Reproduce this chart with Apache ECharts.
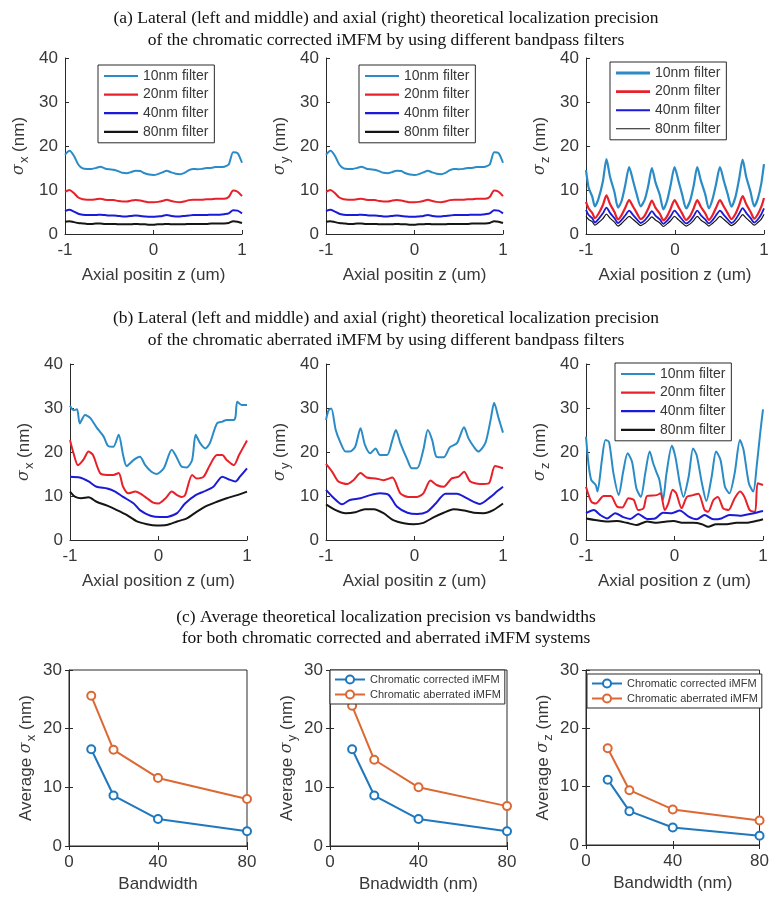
<!DOCTYPE html>
<html><head><meta charset="utf-8">
<script src="https://cdn.jsdelivr.net/npm/echarts@6/dist/echarts.min.js"></script>
<style>html,body{margin:0;padding:0;background:#fff}#c{width:772px;height:901px}</style>
</head><body><div id="c"></div>
<script>
// ---------- DATA ----------
const seriesNames = ['10nm filter','20nm filter','40nm filter','80nm filter'];
const compNames = ['Chromatic corrected iMFM','Chromatic aberrated iMFM'];

// Row (a): lateral sigma_x / sigma_y (chromatic corrected)
const zA = [-1,-0.95,-0.9,-0.85,-0.8,-0.75,-0.7,-0.65,-0.6,-0.55,-0.5,-0.45,-0.4,-0.35,-0.3,-0.25,-0.2,-0.15,-0.1,-0.05,0,0.05,0.1,0.15,0.2,0.25,0.3,0.35,0.4,0.45,0.5,0.55,0.6,0.65,0.7,0.75,0.8,0.85,0.9,0.95,1];
const aLat10 = [18.0,18.9,17.8,15.8,14.9,14.8,14.8,15.0,15.3,14.9,14.7,14.6,14.3,13.9,13.8,14.1,14.4,14.3,13.8,13.5,13.4,13.6,14.0,14.4,14.0,13.7,13.6,13.9,14.5,14.8,14.7,14.8,15.0,15.0,15.2,15.2,15.3,15.8,18.6,18.4,16.2];
const aLat20 = [9.6,10.0,9.3,8.3,7.9,7.8,7.8,7.9,8.0,7.8,7.7,7.7,7.5,7.4,7.4,7.6,7.7,7.6,7.4,7.2,7.2,7.3,7.5,7.8,7.5,7.3,7.2,7.4,7.7,7.8,7.8,7.8,7.9,7.9,8.0,8.0,8.0,8.4,9.9,9.6,8.6];
const aLat40 = [5.2,5.5,5.1,4.6,4.4,4.3,4.3,4.3,4.4,4.3,4.2,4.2,4.1,4.0,4.0,4.1,4.2,4.1,4.0,3.9,3.9,4.0,4.1,4.3,4.1,4.0,4.0,4.1,4.2,4.3,4.3,4.3,4.3,4.4,4.4,4.4,4.5,4.7,5.4,5.3,4.7];
const aLat80 = [2.8,2.9,2.7,2.5,2.4,2.3,2.3,2.4,2.4,2.3,2.3,2.3,2.2,2.2,2.2,2.2,2.3,2.2,2.2,2.1,2.1,2.2,2.2,2.3,2.2,2.2,2.2,2.2,2.3,2.3,2.3,2.3,2.3,2.4,2.4,2.4,2.4,2.5,2.9,2.8,2.5];

// Row (a): axial sigma_z (chromatic corrected)
const zAz = [-1,-0.97,-0.93,-0.9,-0.86,-0.81,-0.77,-0.73,-0.68,-0.64,-0.6,-0.56,-0.515,-0.47,-0.43,-0.385,-0.34,-0.3,-0.26,-0.22,-0.17,-0.13,-0.09,-0.05,-0.005,0.04,0.08,0.125,0.17,0.21,0.25,0.29,0.34,0.38,0.42,0.46,0.505,0.55,0.59,0.635,0.68,0.72,0.76,0.8,0.85,0.89,0.93,0.97,1];
const aAx10 = [14.5,10.5,8.5,6.3,8.0,12.0,17.0,13.0,9.5,6.0,7.5,11.0,15.2,12.0,9.0,6.3,7.8,11.0,15.0,11.8,8.8,5.6,7.5,11.0,15.2,12.0,9.0,5.8,7.6,11.0,15.2,12.2,9.0,5.8,7.8,11.2,15.2,12.0,9.2,6.2,8.5,12.5,16.9,13.0,9.5,6.3,8.0,11.5,15.9];
const aAx20 = [7.3,5.8,4.8,3.6,4.6,6.6,8.8,6.8,5.0,3.3,4.3,5.9,7.7,6.2,4.8,3.4,4.2,5.8,7.6,6.0,4.6,3.1,4.0,5.7,7.7,6.1,4.7,3.2,4.1,5.8,7.7,6.2,4.7,3.2,4.2,5.9,7.7,6.2,4.8,3.4,4.6,6.5,8.6,6.8,5.0,3.5,4.5,6.2,8.2];
const aAx40 = [5.5,4.3,3.6,2.6,3.4,4.7,6.0,4.8,3.6,2.5,3.2,4.2,5.3,4.3,3.4,2.5,3.1,4.1,5.2,4.2,3.3,2.3,3.0,4.0,5.3,4.3,3.3,2.4,3.0,4.1,5.3,4.3,3.3,2.4,3.1,4.2,5.3,4.3,3.4,2.5,3.3,4.6,5.9,4.8,3.6,2.6,3.3,4.5,5.8];
const aAx80 = [4.0,3.3,2.8,2.0,2.6,3.5,4.5,3.6,2.7,1.8,2.4,3.2,4.0,3.3,2.6,1.9,2.4,3.1,3.9,3.2,2.5,1.7,2.3,3.0,4.0,3.2,2.5,1.8,2.3,3.1,4.0,3.2,2.5,1.8,2.4,3.1,4.0,3.3,2.6,1.9,2.5,3.4,4.4,3.6,2.7,2.0,2.6,3.4,4.5];

// Row (b): sigma_x (chromatic aberrated)
const bx10z = [-1,-0.96,-0.92,-0.89,-0.83,-0.77,-0.7,-0.62,-0.57,-0.51,-0.45,-0.4,-0.36,-0.28,-0.21,-0.15,-0.08,-0.02,0.06,0.15,0.21,0.26,0.32,0.38,0.42,0.47,0.53,0.58,0.66,0.72,0.77,0.85,0.87,0.89,0.94,1];
const bx10 = [30.5,29.5,29.7,26.5,28.4,27.7,25.6,23.5,21.4,21.2,23.9,19.3,16.8,18.2,18.9,17.0,15.5,15.0,16.3,20.5,18.6,16.7,16.5,18.2,23.9,22.0,20.8,22.0,26.5,26.9,27.3,27.3,28.0,31.4,30.7,30.7];
const bx20z = [-1,-0.96,-0.91,-0.85,-0.79,-0.74,-0.66,-0.58,-0.51,-0.45,-0.4,-0.34,-0.26,-0.21,-0.13,-0.06,0,0.08,0.15,0.21,0.26,0.3,0.38,0.43,0.51,0.58,0.66,0.72,0.77,0.85,0.91,1];
const bx20 = [22.7,19.7,17.0,18.2,20.1,19.3,15.2,14.8,14.8,15.2,12.1,10.6,11.0,10.6,9.5,8.5,8.3,9.5,11.0,10.2,9.8,10.2,14.8,14.0,14.4,17.0,19.3,19.3,18.2,17.0,19.3,22.6];
const bx40z = [-1,-0.89,-0.79,-0.7,-0.58,-0.49,-0.4,-0.28,-0.21,-0.09,0.02,0.11,0.21,0.3,0.42,0.51,0.62,0.72,0.79,0.87,0.92,1];
const bx40 = [14.4,14.2,13.3,12.1,11.7,11.0,9.8,8.3,6.8,5.5,5.2,5.3,6.1,8.3,10.2,11.0,12.1,14.4,13.8,13.3,14.4,16.3];
const bx80z = [-1,-0.94,-0.87,-0.79,-0.7,-0.58,-0.47,-0.36,-0.25,-0.13,-0.02,0.09,0.21,0.32,0.43,0.55,0.66,0.77,0.89,1];
const bx80 = [11.0,9.8,9.5,9.7,8.7,7.8,6.8,5.7,4.3,3.6,3.3,3.4,4.2,4.9,6.4,7.8,8.7,9.5,10.2,11.0];

// Row (b): sigma_y (chromatic aberrated)
const by10z = [-1,-0.97,-0.94,-0.89,-0.84,-0.78,-0.73,-0.67,-0.61,-0.56,-0.5,-0.44,-0.39,-0.31,-0.25,-0.21,-0.16,-0.08,-0.03,0.03,0.1,0.15,0.2,0.25,0.33,0.4,0.48,0.56,0.61,0.67,0.72,0.8,0.86,0.9,0.95,1];
const by10 = [27.3,29.5,29.9,25.0,22.3,20.1,20.1,21.2,25.4,21.6,19.7,20.8,19.3,19.3,22.7,25.0,22.0,18.2,16.3,16.3,20.5,25.0,22.7,18.9,18.8,21.1,22.0,25.6,23.1,21.2,20.1,22.0,27.3,31.2,27.7,24.4];
const by20z = [-1,-0.93,-0.86,-0.76,-0.69,-0.61,-0.54,-0.44,-0.35,-0.25,-0.16,-0.07,0.03,0.1,0.18,0.25,0.33,0.42,0.5,0.56,0.63,0.74,0.84,0.91,1];
const by20 = [17.3,15.5,13.3,12.7,13.6,15.2,14.2,14.0,13.6,14.2,10.6,9.8,9.8,10.6,13.5,12.5,12.1,14.0,14.4,15.5,13.3,12.7,12.9,16.8,16.3];
const by40z = [-1,-0.91,-0.82,-0.73,-0.61,-0.5,-0.39,-0.29,-0.2,-0.08,0.03,0.14,0.24,0.35,0.48,0.59,0.74,0.86,0.93,1];
const by40 = [11.4,9.5,8.1,9.1,9.5,10.2,10.6,10.2,7.6,6.2,5.9,6.4,8.3,10.5,10.5,9.5,8.2,9.8,11.0,12.1];
const by80z = [-1,-0.89,-0.78,-0.67,-0.56,-0.46,-0.35,-0.24,-0.12,-0.01,0.1,0.22,0.33,0.44,0.56,0.67,0.78,0.89,1];
const by80 = [8.1,6.8,6.1,6.3,7.0,7.0,6.1,4.5,3.8,3.6,3.9,5.2,6.2,7.0,6.7,6.2,6.1,6.8,8.3];

// Row (b): sigma_z (chromatic aberrated)
const bz10z = [-1,-0.97,-0.94,-0.89,-0.87,-0.82,-0.78,-0.74,-0.69,-0.63,-0.58,-0.53,-0.48,-0.43,-0.38,-0.33,-0.28,-0.24,-0.2,-0.17,-0.13,-0.09,-0.03,0.01,0.06,0.1,0.16,0.21,0.25,0.31,0.36,0.42,0.47,0.52,0.57,0.62,0.68,0.74,0.78,0.84,0.89,0.93,0.97,1];
const bz10 = [23.5,17.0,13.6,12.5,11.0,18.2,22.7,22.3,15.2,10.2,15.5,19.7,17.8,11.7,9.8,15.2,20.1,17.4,15.2,13.6,9.1,15.2,21.4,18.9,12.9,9.8,14.4,20.8,19.3,12.9,8.9,14.4,20.1,18.2,12.1,10.6,15.2,22.7,20.5,12.9,11.0,17.0,24.6,29.7];
const bz20z = [-1,-0.94,-0.89,-0.8,-0.72,-0.65,-0.59,-0.52,-0.46,-0.41,-0.35,-0.31,-0.2,-0.16,-0.11,-0.07,-0.02,0.02,0.08,0.14,0.21,0.27,0.34,0.38,0.44,0.49,0.55,0.61,0.68,0.74,0.79,0.85,0.91,0.94,1];
const bz20 = [12.1,8.7,8.3,10.0,10.0,7.6,7.4,9.5,9.1,6.8,7.2,10.0,10.2,10.6,6.8,8.3,11.4,10.6,7.2,9.8,10.2,10.5,6.8,6.4,9.1,9.8,7.2,6.8,9.5,11.0,9.8,6.8,6.4,12.9,12.5];
const bz40z = [-1,-0.91,-0.84,-0.76,-0.67,-0.58,-0.5,-0.41,-0.31,-0.22,-0.13,-0.03,0.06,0.16,0.25,0.34,0.44,0.53,0.62,0.74,0.85,0.92,1];
const bz40 = [6.1,6.8,5.7,4.9,6.1,5.2,4.8,5.9,4.8,4.9,6.2,6.1,6.7,5.3,4.7,5.7,4.7,4.9,5.7,5.5,5.9,6.2,6.6];
const bz80z = [-1,-0.88,-0.76,-0.65,-0.54,-0.43,-0.31,-0.2,-0.09,-0.01,0.1,0.21,0.31,0.38,0.47,0.59,0.7,0.81,0.92,1];
const bz80 = [4.9,4.5,4.2,4.3,3.9,3.4,4.2,3.9,4.2,4.3,3.9,3.9,3.6,3.0,3.6,3.6,3.9,3.9,4.3,4.7];

// Row (c): averages vs bandwidth
const bandwidths = [10,20,40,80];
const avgXCorr = [16.5,8.6,4.6,2.5];
const avgXAber = [25.6,16.4,11.6,8.0];
const avgYCorr = [16.5,8.6,4.6,2.5];
const avgYAber = [23.9,14.7,10.0,6.8];
const avgZCorr = [11.2,5.8,3.0,1.6];
const avgZAber = [16.6,9.4,6.1,4.2];

const xTicksZ = [-1,0,1];
const xTicksBW = [0,40,80];

// ---------- STYLE ----------
const C10 = '#2b8bc6', C20 = '#e8202a', C40 = '#1a1ad8', C80 = '#151515';
const CC = '#1f78be', CA = '#dc6833';
const AX = '#2a2a2a';
const LBL = '#383838';
const SANS = 'Liberation Sans, Arial, sans-serif';
const SERIF = 'Liberation Serif, Times New Roman, serif';

function pairs(xs, ys){ return xs.map((x,i)=>[x, ys[i]]); }

const grids = [
  {left:65, top:58, width:177, height:176},
  {left:326, top:58, width:177, height:176},
  {left:586, top:58, width:178, height:176},
  {left:70, top:364, width:177, height:176},
  {left:326, top:364, width:177, height:176},
  {left:586, top:364, width:177, height:176},
  {left:69, top:670, width:178, height:176, show:true, borderColor:AX, borderWidth:1},
  {left:330, top:670, width:177, height:176, show:true, borderColor:AX, borderWidth:1},
  {left:586, top:670, width:177, height:175, show:true, borderColor:AX, borderWidth:1}
];

const xNames = ['Axial positin z (um)','Axial positin z (um)','Axial position z (um)',
  'Axial position z (um)','Axial positin z (um)','Axial position z (um)',
  'Bandwidth','Bnadwidth (nm)','Bandwidth (nm)'];
const subs = ['x','y','z','x','y','z','x','y','z'];

const rich = {
  s:{fontFamily:'DejaVu Serif', fontStyle:'italic', fontSize:16, color:LBL, lineHeight:24, verticalAlign:'middle'},
  sub:{fontFamily:SANS, fontSize:13, color:LBL, lineHeight:24, verticalAlign:'bottom', padding:[0,0,0,1]},
  t:{fontFamily:SANS, fontSize:17, color:LBL, lineHeight:24, verticalAlign:'middle'}
};

const xAxes = [], yAxes = [];
for (let i=0;i<9;i++){
  const row3 = i>=6;
  xAxes.push({
    gridIndex:i, type:'value',
    min: row3?0:-1, max: row3?80:1, interval: row3?40:1,
    name: xNames[i], nameLocation:'middle', nameGap: row3?30:33,
    nameTextStyle:{fontFamily:SANS, fontSize:17, color:LBL},
    axisLine:{show:true, onZero:false, lineStyle:{color:AX, width:1}},
    axisTick:{show:true, inside:true, length:4, lineStyle:{color:AX}},
    axisLabel:{fontFamily:SANS, fontSize:17, color:LBL, margin:8,
      formatter: v => (row3?xTicksBW:xTicksZ).includes(v) ? String(v) : ''},
    splitLine:{show:false}
  });
  yAxes.push({
    gridIndex:i, type:'value',
    min:0, max: row3?30:40, interval:10,
    name: row3 ? '{t|Average }{s|σ}{sub|'+subs[i]+'}{t| (nm)}' : '{s|σ}{sub|'+subs[i]+'}{t| (nm)}',
    nameLocation:'middle', nameRotate:90, nameGap: row3?31:34,
    nameTextStyle:{rich: rich},
    axisLine:{show:true, onZero:false, lineStyle:{color:AX, width:1}},
    axisTick:{show:true, inside:true, length:4, lineStyle:{color:AX}},
    axisLabel:{fontFamily:SANS, fontSize:17, color:LBL, margin:7},
    splitLine:{show:false}
  });
}
// inner ticks on top/right for the boxed row (c)
for (let i=6;i<9;i++){
  xAxes.push({gridIndex:i, type:'value', position:'top', min:0, max:80, interval:40,
    axisLine:{show:false}, axisTick:{show:true, inside:true, length:4, lineStyle:{color:AX}},
    axisLabel:{show:false}, splitLine:{show:false}});
  yAxes.push({gridIndex:i, type:'value', position:'right', min:0, max:30, interval:10,
    axisLine:{show:false}, axisTick:{show:true, inside:true, length:4, lineStyle:{color:AX}},
    axisLabel:{show:false}, splitLine:{show:false}});
}

const series = [];
function addLine(gi, name, data, color, width){
  series.push({type:'line', name:name, xAxisIndex:gi, yAxisIndex:gi, data:data,
    showSymbol:false, symbol:'none', smooth:0.25, animation:false,
    lineStyle:{color:color, width:width}, itemStyle:{color:color}});
}
const cols = [C10,C20,C40,C80];
// (a)
[aLat10,aLat20,aLat40,aLat80].forEach((ys,k)=>addLine(0, seriesNames[k], pairs(zA, ys), cols[k], 2));
[aLat10,aLat20,aLat40,aLat80].forEach((ys,k)=>addLine(1, seriesNames[k], pairs(zA, ys), cols[k], 2));
[aAx10,aAx20,aAx40,aAx80].forEach((ys,k)=>addLine(2, seriesNames[k], pairs(zAz, ys), cols[k], [2.2,2.2,1.8,1.2][k]));
// (b)
addLine(3, seriesNames[0], pairs(bx10z,bx10), C10, 2);
addLine(3, seriesNames[1], pairs(bx20z,bx20), C20, 2);
addLine(3, seriesNames[2], pairs(bx40z,bx40), C40, 2);
addLine(3, seriesNames[3], pairs(bx80z,bx80), C80, 2);
addLine(4, seriesNames[0], pairs(by10z,by10), C10, 2);
addLine(4, seriesNames[1], pairs(by20z,by20), C20, 2);
addLine(4, seriesNames[2], pairs(by40z,by40), C40, 2);
addLine(4, seriesNames[3], pairs(by80z,by80), C80, 2);
addLine(5, seriesNames[0], pairs(bz10z,bz10), C10, 2);
addLine(5, seriesNames[1], pairs(bz20z,bz20), C20, 2);
addLine(5, seriesNames[2], pairs(bz40z,bz40), C40, 2);
addLine(5, seriesNames[3], pairs(bz80z,bz80), C80, 2);
// (c)
function addAvg(gi, name, ys, color){
  series.push({type:'line', name:name, xAxisIndex:gi, yAxisIndex:gi, data:pairs(bandwidths, ys),
    symbol:'emptyCircle', symbolSize:8, animation:false,
    lineStyle:{color:color, width:2}, itemStyle:{color:color, borderColor:color, borderWidth:1.5}});
}
addAvg(6, compNames[0], avgXCorr, CC); addAvg(6, compNames[1], avgXAber, CA);
addAvg(7, compNames[0], avgYCorr, CC); addAvg(7, compNames[1], avgYAber, CA);
addAvg(8, compNames[0], avgZCorr, CC); addAvg(8, compNames[1], avgZAber, CA);

function bar(h){ return 'path://M0,0 L34,0 L34,' + h + ' L0,' + h + ' Z'; }
function filterLegend(left, top, widths){
  return {orient:'vertical', left:left, top:top, itemWidth:34, itemHeight:14, itemGap:4.6,
    padding:[4,6,4,6], backgroundColor:'#fff', borderColor:AX, borderWidth:1, borderRadius:0,
    selectedMode:false, itemStyle:{borderWidth:0},
    textStyle:{fontFamily:SANS, fontSize:14, color:LBL},
    data: seriesNames.map((n,k)=>({name:n, icon:bar(widths[k]), itemStyle:{color:cols[k], borderWidth:0}}))};
}
function compLegend(left, top){
  return {orient:'vertical', left:left, top:top, itemWidth:30, itemHeight:10, itemGap:4,
    padding:[4,4,4,4], backgroundColor:'#fff', borderColor:AX, borderWidth:1, borderRadius:0,
    selectedMode:false,
    textStyle:{fontFamily:SANS, fontSize:11, color:LBL},
    data: compNames};
}

const legends = [
  filterLegend(98, 65, [2.2,2.2,2.2,2.2]),
  filterLegend(359, 65, [2.2,2.2,2.2,2.2]),
  filterLegend(610, 62, [2.8,2.8,2,1]),
  filterLegend(615, 363, [2.2,2.2,2.2,2.2]),
  compLegend(330, 670),
  compLegend(587, 674)
];

const titleStyle = {fontFamily:SERIF, fontSize:17.5, fill:'#111', textAlign:'center', textVerticalAlign:'middle'};
const titles = [
  ['(a) Lateral (left and middle) and axial (right) theoretical localization precision', 18],
  ['of the chromatic corrected iMFM by using different bandpass filters', 40],
  ['(b) Lateral (left and middle) and axial (right) theoretical localization precision', 318],
  ['of the chromatic aberrated iMFM by using different bandpass filters', 340],
  ['(c) Average theoretical localization precision vs bandwidths', 617],
  ['for both chromatic corrected and aberrated iMFM systems', 638]
];

const chart = echarts.init(document.getElementById('c'), null, {renderer:'canvas'});
chart.setOption({
  backgroundColor:'#fff',
  animation:false,
  grid: grids,
  xAxis: xAxes,
  yAxis: yAxes,
  legend: legends,
  series: series,
  graphic: titles.map(t=>({type:'text', x:386, y:t[1], style:Object.assign({text:t[0]}, titleStyle)}))
});
</script>
</body></html>
